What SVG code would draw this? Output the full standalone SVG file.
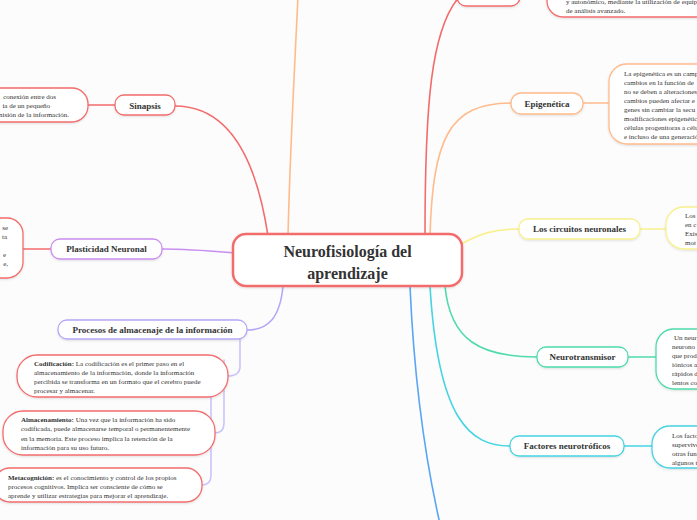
<svg xmlns="http://www.w3.org/2000/svg" width="697" height="520" viewBox="0 0 697 520">
<style>
  text { font-family: "Liberation Serif", "DejaVu Serif", serif; fill: #333; }
  .n { font-size: 9px; font-weight: bold; text-anchor: middle; }
  .d { font-size: 7px; }
  .b { font-weight: bold; }
  .c { fill: none; stroke-width: 1.6; stroke-linecap: round; }
  .box { fill: #fff; stroke-width: 1.3; filter: url(#sh); }
  .red { stroke: #f36c6c; }
  .org { stroke: #ffbb8c; }
  .yel { stroke: #f9f08e; }
  .grn { stroke: #4fdcaa; }
  .cyn { stroke: #44d4e2; }
  .blu { stroke: #5aa5f5; }
  .pur { stroke: #c98ff0; }
  .lav { stroke: #b6a8f6; }
  .lav2 { stroke: #cbc3fb; }
</style>
<defs>
  <filter id="sh" x="-20%" y="-30%" width="140%" height="160%">
    <feDropShadow dx="0" dy="1" stdDeviation="1.2" flood-color="#000" flood-opacity="0.12"/>
  </filter>
</defs>
<rect x="0" y="0" width="697" height="520" fill="#fcfcfc"/>

<g id="connectors">
  <path class="c org" d="M288,236 C290,150 295,60 298,-4"/>
  <path class="c red" d="M425,236 C425,110 430,25 462,-6"/>
  <path class="c org" d="M430,236 C433,140 448,103 511,103"/>
  <path class="c yel" d="M458,246 C480,233 495,229 519,229"/>
  <path class="c grn" d="M445,286 C450,340 480,357 537,357"/>
  <path class="c cyn" d="M430,286 C438,420 470,446 510,446"/>
  <path class="c blu" d="M410,286 C415,400 430,480 440,524"/>
  <path class="c red" d="M268,236 C255,150 225,106 175,106"/>
  <path class="c pur" d="M235,253 C200,250 190,249 162,249"/>
  <path class="c lav" d="M283,286 C280,318 268,330 247,330"/>
  <path class="c lav2" d="M240,339 V366 Q240,376 228,376"/>
  <path class="c lav2" d="M224,360 V423 Q224,433 215,433"/>
  <path class="c lav2" d="M211,360 V475 Q211,485 202,485"/>
  <path class="c red" d="M88,105 H115"/>
  <path class="c red" d="M23,249 H51"/>
  <path class="c org" d="M583,103 H609"/>
  <path class="c yel" d="M640,229 H666"/>
  <path class="c grn" d="M628,357 H656"/>
  <path class="c cyn" d="M624,446 H652"/>
  <path class="c red" d="M520,-4 H547"/>
</g>

<g id="central">
  <rect x="233" y="234" width="229" height="52" rx="13" fill="#fff" stroke="#f36c6c" stroke-width="2.5" filter="url(#sh)"/>
  <text x="347.5" y="257" font-size="16" font-weight="bold" text-anchor="middle">Neurofisiología del</text>
  <text x="347.5" y="279" font-size="16" font-weight="bold" text-anchor="middle">aprendizaje</text>
</g>

<g id="top-node">
  <rect class="box red" x="457" y="-20" width="63" height="26" rx="9"/>
</g>
<g id="top-detail">
  <rect class="box red" x="547" y="-40" width="170" height="57" rx="16"/>
  <text class="d" x="566" y="4">y autonómico, mediante la utilización de equip</text>
  <text class="d" x="566" y="12.5">de análisis avanzado.</text>
</g>

<g id="sinapsis">
  <rect class="box red" x="115" y="95" width="60" height="20" rx="9"/>
  <text class="n" x="145" y="108.5">Sinapsis</text>
</g>
<g id="sinapsis-detail">
  <rect class="box red" x="-30" y="88" width="118" height="34" rx="16"/>
  <text class="d" x="56" y="98.5" text-anchor="end">conexión entre dos</text>
  <text class="d" x="50" y="107.5" text-anchor="end">ia de un pequeño</text>
  <text class="d" x="69" y="116.5" text-anchor="end">misión de la información.</text>
</g>

<g id="plasticidad">
  <rect class="box pur" x="51" y="239" width="111" height="20" rx="9"/>
  <text class="n" x="106.5" y="252">Plasticidad Neuronal</text>
</g>
<g id="plasticidad-detail">
  <rect class="box red" x="-40" y="218" width="63" height="60" rx="16"/>
  <text class="d" x="8" y="229.5" text-anchor="end">se</text>
  <text class="d" x="7" y="238.5" text-anchor="end">ta</text>
  <text class="d" x="6" y="256.5" text-anchor="end">e</text>
  <text class="d" x="8" y="265.5" text-anchor="end">e,</text>
</g>

<g id="procesos">
  <rect class="box lav" x="58" y="320" width="189" height="19" rx="9"/>
  <text class="n" x="152.5" y="333">Procesos de almacenaje de la información</text>
</g>
<g id="codificacion">
  <rect class="box red" x="17" y="355" width="211" height="42" rx="20"/>
  <text class="d" x="34" y="365.5"><tspan class="b">Codificación:</tspan> La codificación es el primer paso en el</text>
  <text class="d" x="34" y="374.5">almacenamiento de la información, donde la información</text>
  <text class="d" x="34" y="383.5">percibida se transforma en un formato que el cerebro puede</text>
  <text class="d" x="34" y="392.5">procesar y almacenar.</text>
</g>
<g id="almacenamiento">
  <rect class="box red" x="3" y="411" width="212" height="44" rx="20"/>
  <text class="d" x="21" y="421.5"><tspan class="b">Almacenamiento:</tspan> Una vez que la información ha sido</text>
  <text class="d" x="21" y="431">codificada, puede almacenarse temporal o permanentemente</text>
  <text class="d" x="21" y="440.5">en la memoria. Este proceso implica la retención de la</text>
  <text class="d" x="21" y="449.5">información para su uso futuro.</text>
</g>
<g id="metacognicion">
  <rect class="box red" x="-6" y="468" width="208" height="34" rx="16"/>
  <text class="d" x="8" y="479.5"><tspan class="b">Metacognición:</tspan> es el conocimiento y control de los propios</text>
  <text class="d" x="8" y="488.5">procesos cognitivos. Implica ser consciente de cómo se</text>
  <text class="d" x="8" y="497.5">aprende y utilizar estrategias para mejorar el aprendizaje.</text>
</g>

<g id="epigenetica">
  <rect class="box org" x="511" y="93" width="72" height="21" rx="10"/>
  <text class="n" x="547" y="106.5">Epigenética</text>
</g>
<g id="epigenetica-detail">
  <rect class="box org" x="609" y="64" width="120" height="80" rx="18"/>
  <text class="d" x="624" y="75.5">La epigenética es un camp</text>
  <text class="d" x="624" y="84.5">cambios en la función de</text>
  <text class="d" x="624" y="93.5">no se deben a alteraciones</text>
  <text class="d" x="624" y="102.5">cambios pueden afectar e</text>
  <text class="d" x="624" y="111.5">genes sin cambiar la secu</text>
  <text class="d" x="624" y="120.5">modificaciones epigenétic</text>
  <text class="d" x="624" y="129.5">células progenitoras a célu</text>
  <text class="d" x="624" y="138.5">e incluso de una generació</text>
</g>

<g id="circuitos">
  <rect class="box yel" x="519" y="219" width="121" height="20" rx="9"/>
  <text class="n" x="579.5" y="232">Los circuitos neuronales</text>
</g>
<g id="circuitos-detail">
  <rect class="box yel" x="666" y="207" width="80" height="42" rx="18"/>
  <text class="d" x="685" y="217.5">Los</text>
  <text class="d" x="685" y="226.5">en c</text>
  <text class="d" x="685" y="235.5">Exis</text>
  <text class="d" x="685" y="244.5">mot</text>
</g>

<g id="neurotransmisor">
  <rect class="box grn" x="537" y="347" width="91" height="20" rx="9"/>
  <text class="n" x="582.5" y="360">Neurotransmisor</text>
</g>
<g id="neurotransmisor-detail">
  <rect class="box grn" x="656" y="329" width="80" height="60" rx="18"/>
  <text class="d" x="674" y="339.5">Un neur</text>
  <text class="d" x="672" y="348.5">neurono</text>
  <text class="d" x="672" y="357.5">que prod</text>
  <text class="d" x="672" y="366.5">iónicos a</text>
  <text class="d" x="672" y="375.5">rápidos d</text>
  <text class="d" x="672" y="384.5">lentos co</text>
</g>

<g id="factores">
  <rect class="box cyn" x="510" y="436" width="114" height="20" rx="9"/>
  <text class="n" x="567" y="449">Factores neurotróficos</text>
</g>
<g id="factores-detail">
  <rect class="box cyn" x="652" y="426" width="80" height="42" rx="18"/>
  <text class="d" x="672" y="437.5">Los facto</text>
  <text class="d" x="672" y="446.5">supervive</text>
  <text class="d" x="672" y="455.5">otras fun</text>
  <text class="d" x="672" y="464.5">algunos t</text>
</g>
</svg>
